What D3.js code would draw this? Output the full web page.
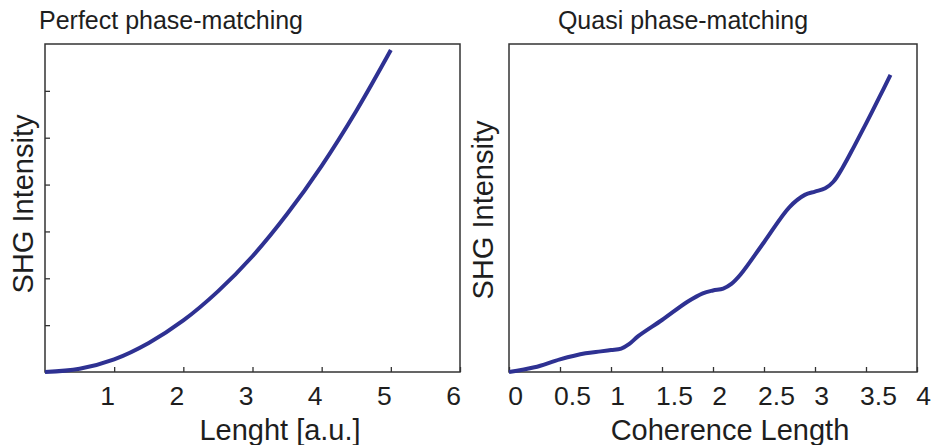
<!DOCTYPE html>
<html>
<head>
<meta charset="utf-8">
<script src="https://cdn.jsdelivr.net/npm/d3@7"></script>
<style>
  body { margin: 0; background: #fff; }
  text { font-family: "Liberation Sans", Arial, sans-serif; fill: #1e1e1e; }
</style>
</head>
<body>
<div id="chart"></div>
<script>
// left panel: perfect phase-matching
const lengthAU = [0, 0.5, 1, 1.5, 2, 2.5, 3, 3.5, 4, 4.5, 5]
const intensityPPM = [0, 0.07, 0.27, 0.62, 1.1, 1.72, 2.47, 3.37, 4.4, 5.57, 6.87]
const lengthTicks = [1, 2, 3, 4, 5, 6]

// right panel: quasi phase-matching
const coherence = [0, 0.25, 0.5, 0.75, 0.9, 1, 1.1, 1.18, 1.27, 1.5, 1.75, 1.9, 2, 2.1, 2.18, 2.27, 2.5, 2.75, 2.9, 3, 3.1, 3.18, 3.27, 3.38, 3.5, 3.63, 3.74]
const intensityQPM = [0, 0.1, 0.27, 0.4, 0.44, 0.47, 0.5, 0.6, 0.77, 1.11, 1.5, 1.68, 1.74, 1.78, 1.88, 2.08, 2.77, 3.52, 3.78, 3.85, 3.92, 4.06, 4.36, 4.8, 5.3, 5.86, 6.34]
const coherenceTicks = [0, 0.5, 1, 1.5, 2, 2.5, 3, 3.5, 4]

const intensityTicks = [1, 2, 3, 4, 5, 6]

const width = 933
const height = 445
const plotTop = 44
const plotBottom = 372
const lineColor = '#2e3192'
const frameColor = '#333'

const svg = d3.select('#chart')
  .append('svg')
  .attr('width', width)
  .attr('height', height)

svg.append('rect').attr('width', width).attr('height', height).attr('fill', '#fff')

const drawPanel = (opt) => {
  const x = d3.scaleLinear().domain(opt.xDomain).range([opt.left, opt.right])
  const y = d3.scaleLinear().domain([0, 7]).range([plotBottom, plotTop])
  const g = svg.append('g')

  // x axis, ticks pointing inwards
  const xAxis = g.append('g')
    .attr('transform', `translate(0,${plotBottom})`)
    .call(d3.axisBottom(x)
      .tickValues(opt.xTicks)
      .tickSize(-5)
      .tickSizeOuter(0)
      .tickFormat(d => d3.format('')(d)))
  xAxis.select('.domain').remove()
  xAxis.selectAll('line').attr('stroke', frameColor).attr('stroke-width', 1.3)
  xAxis.selectAll('text')
    .attr('y', 33)
    .attr('dy', 0)
    .attr('dx', d => opt.labelDx(d))
    .style('font-size', '26.5px')
    .attr('fill', '#1e1e1e')

  if (opt.yTicks) {
    const yAxis = g.append('g')
      .attr('transform', `translate(${opt.left},0)`)
      .call(d3.axisLeft(y).tickValues(opt.yTicks).tickSize(-5).tickFormat(''))
    yAxis.select('.domain').remove()
    yAxis.selectAll('line').attr('stroke', frameColor).attr('stroke-width', 1.3)
  }

  // frame
  g.append('rect')
    .attr('x', opt.left)
    .attr('y', plotTop)
    .attr('width', opt.right - opt.left)
    .attr('height', plotBottom - plotTop)
    .attr('fill', 'none')
    .attr('stroke', frameColor)
    .attr('stroke-width', 1.5)

  const line = d3.line()
    .x(d => x(d[0]))
    .y(d => y(d[1]))
    .curve(d3.curveCatmullRom.alpha(0.5))

  g.append('path')
    .datum(d3.zip(opt.xs, opt.ys))
    .attr('d', line)
    .attr('fill', 'none')
    .attr('stroke', lineColor)
    .attr('stroke-width', 4)
    .attr('stroke-linecap', 'butt')

  // titles and labels
  g.append('text')
    .attr('x', opt.titleX)
    .attr('y', 29)
    .attr('text-anchor', 'middle')
    .style('font-size', '25px')
    .text(opt.title)

  g.append('text')
    .attr('x', opt.xLabelX)
    .attr('y', 440)
    .attr('text-anchor', 'middle')
    .style('font-size', '29px')
    .text(opt.xLabel)

  g.append('text')
    .attr('transform', `translate(${opt.yLabelX},${opt.yLabelY}) rotate(-90)`)
    .attr('text-anchor', 'middle')
    .style('font-size', '29px')
    .text('SHG Intensity')
}

drawPanel({
  left: 45, right: 460,
  xDomain: [0, 6],
  xTicks: lengthTicks,
  yTicks: intensityTicks,
  labelDx: d => -7,
  xs: lengthAU, ys: intensityPPM,
  title: 'Perfect phase-matching', titleX: 171,
  xLabel: 'Lenght [a.u.]', xLabelX: 280,
  yLabelX: 33, yLabelY: 204
})

drawPanel({
  left: 509, right: 917,
  xDomain: [0, 4],
  xTicks: coherenceTicks,
  yTicks: null,
  labelDx: d => Number.isInteger(d) ? 6 : 12,
  xs: coherence, ys: intensityQPM,
  title: 'Quasi phase-matching', titleX: 683,
  xLabel: 'Coherence Length', xLabelX: 730,
  yLabelX: 493, yLabelY: 210
})
</script>
</body>
</html>
